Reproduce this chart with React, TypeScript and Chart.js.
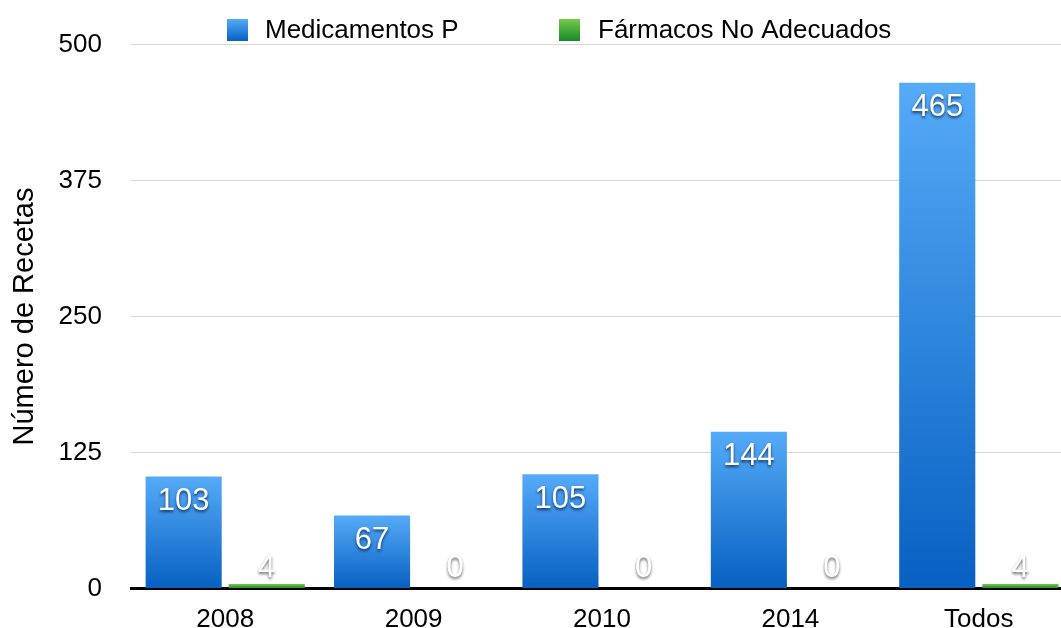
import React, { useEffect, useRef } from 'react';
import { Chart, registerables } from 'chart.js';

Chart.register(...registerables);

const categories = ['2008', '2009', '2010', '2014', 'Todos'];
const seriesNames = ['Medicamentos P', 'Fármacos No Adecuados'];
const medicamentos = [103, 67, 105, 144, 465];
const farmacos = [4, 0, 0, 0, 4];
const yTicks = [0, 125, 250, 375, 500];
const yTitle = 'Número de Recetas';

const FONT = "'Liberation Sans', Arial, Helvetica, sans-serif";
const BLUE = ['#55abf8', '#0760c2'];
const GREEN = ['#78c94a', '#148a2a'];

function gradFill(colors: string[]) {
  return (c: any) => {
    const chart = c.chart;
    const y = chart.scales && chart.scales.y;
    if (c.type !== 'data' || !y) return colors[1];
    const top = y.getPixelForValue(c.raw as number);
    const bot = y.getPixelForValue(0);
    if (!isFinite(top) || !isFinite(bot) || bot - top < 1) return colors[1];
    const g = chart.ctx.createLinearGradient(0, top, 0, bot);
    g.addColorStop(0, colors[0]);
    g.addColorStop(1, colors[1]);
    return g;
  };
}

const legendPlugin = {
  id: 'customLegend',
  afterDraw(chart: any) {
    const ctx = chart.ctx as CanvasRenderingContext2D;
    const items = [
      { bx: 227, tx: 265, colors: BLUE, label: chart.data.datasets[0].label },
      { bx: 559, tx: 598, colors: GREEN, label: chart.data.datasets[1].label },
    ];
    ctx.save();
    for (const it of items) {
      const g = ctx.createLinearGradient(0, 19, 0, 41);
      g.addColorStop(0, it.colors[0]);
      g.addColorStop(1, it.colors[1]);
      ctx.fillStyle = g;
      ctx.fillRect(it.bx, 19, 21, 22);
      ctx.fillStyle = '#000';
      ctx.font = `26px ${FONT}`;
      ctx.textBaseline = 'middle';
      ctx.textAlign = 'left';
      ctx.fillText(it.label, it.tx, 31);
    }
    ctx.restore();
  },
};

const labelPlugin = {
  id: 'barLabels',
  afterDatasetsDraw(chart: any) {
    const ctx = chart.ctx as CanvasRenderingContext2D;
    const base = chart.scales.y.getPixelForValue(0);
    ctx.save();
    ctx.font = `31px ${FONT}`;
    ctx.textAlign = 'center';
    ctx.textBaseline = 'middle';
    chart.data.datasets.forEach((ds: any, di: number) => {
      const meta = chart.getDatasetMeta(di);
      meta.data.forEach((bar: any, i: number) => {
        const v = ds.data[i];
        const y = di === 0 ? bar.y + 25 : base - 20;
        ctx.shadowColor = di === 0 ? 'rgba(0,20,60,0.75)' : 'rgba(0,0,0,0.6)';
        ctx.shadowBlur = 3;
        ctx.shadowOffsetX = 0;
        ctx.shadowOffsetY = 2;
        ctx.fillStyle = '#ffffff';
        ctx.fillText(String(v), bar.x, y);
      });
    });
    ctx.restore();
  },
};

export default function App() {
  const ref = useRef<HTMLCanvasElement>(null);
  useEffect(() => {
    document.body.style.margin = '0';
    const canvas = ref.current!;
    const chart = new Chart(canvas, {
      type: 'bar',
      data: {
        labels: categories,
        datasets: [
          {
            label: seriesNames[0],
            data: medicamentos,
            backgroundColor: gradFill(BLUE),
            borderWidth: 0,
            categoryPercentage: 0.882,
            barPercentage: 0.916,
          },
          {
            label: seriesNames[1],
            data: farmacos,
            backgroundColor: gradFill(GREEN),
            borderWidth: 0,
            categoryPercentage: 0.882,
            barPercentage: 0.916,
          },
        ],
      },
      options: {
        responsive: false,
        animation: false,
        layout: { padding: { top: 44, right: 1, left: 0, bottom: 0 } },
        plugins: {
          legend: { display: false },
          tooltip: { enabled: false },
        },
        scales: {
          x: {
            grid: { display: false },
            border: { display: true, color: '#000', width: 3 },
            ticks: { color: '#000', font: { family: FONT, size: 26 }, padding: 8 },
            afterFit: (s: any) => { s.height = 40; },
          },
          y: {
            min: 0,
            max: 500,
            afterBuildTicks: (s: any) => { s.ticks = yTicks.map((v) => ({ value: v })); },
            grid: { color: '#d6d6d6', lineWidth: 1, drawTicks: false },
            border: { display: false },
            ticks: { color: '#000', font: { family: FONT, size: 26 }, padding: 29 },
            title: {
              display: true,
              text: yTitle,
              color: '#000',
              font: { family: FONT, size: 29 },
              padding: { top: 8, bottom: 0 },
            },
            afterFit: (s: any) => { s.width = 131; },
          },
        },
      },
      plugins: [labelPlugin, legendPlugin],
    });
    return () => chart.destroy();
  }, []);
  return (
    <div style={{ position: 'fixed', left: 0, top: 0, width: 1061, height: 628, overflow: 'hidden', background: '#fff' }}>
      <canvas ref={ref} width={1074} height={633} style={{ display: 'block', width: 1074, height: 633 }} />
    </div>
  );
}
